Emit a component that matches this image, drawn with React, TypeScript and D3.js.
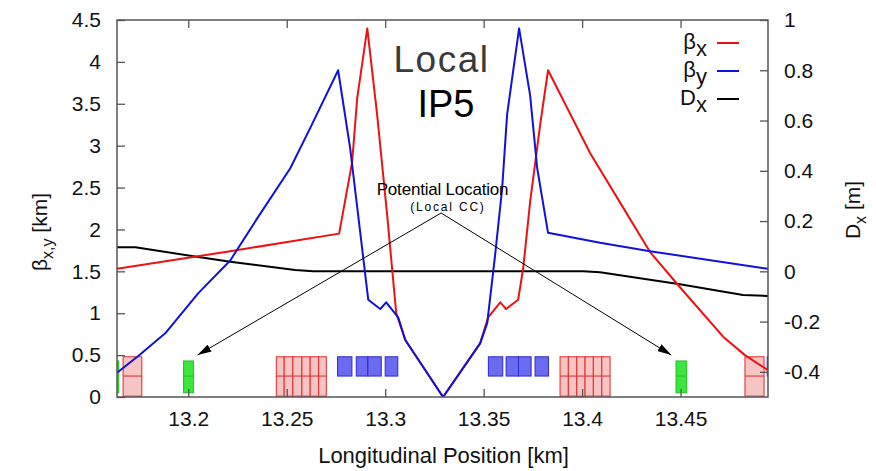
import * as d3 from 'd3'
import React, { useEffect, useRef } from 'react'

// longitudinal position [km] / value pairs
const betaXPos = [13.1638, 13.2213, 13.2766, 13.2832, 13.2858, 13.2909, 13.2959, 13.3010, 13.3056, 13.3102, 13.3294, 13.3482, 13.3523, 13.3584, 13.3614, 13.3675, 13.3701, 13.3736, 13.3787, 13.3827, 13.4041, 13.4193, 13.4345, 13.4497, 13.4716, 13.4827, 13.4944]
const betaXVal = [1.53, 1.74, 1.95, 2.80, 3.57, 4.40, 3.37, 2.17, 1.00, 0.68, 0.0, 0.64, 0.95, 1.13, 1.05, 1.16, 1.54, 2.33, 3.25, 3.90, 2.91, 2.32, 1.73, 1.31, 0.72, 0.50, 0.32]

const betaYPos = [13.1638, 13.1746, 13.1883, 13.2051, 13.2213, 13.2355, 13.2518, 13.2619, 13.2761, 13.2822, 13.2914, 13.2975, 13.3005, 13.3066, 13.3102, 13.3294, 13.3482, 13.3518, 13.3558, 13.3594, 13.3619, 13.3680, 13.3736, 13.3772, 13.3827, 13.4091, 13.4345, 13.4944]
const betaYVal = [0.29, 0.49, 0.76, 1.24, 1.63, 2.15, 2.73, 3.21, 3.90, 2.97, 1.16, 1.05, 1.13, 0.95, 0.68, 0.0, 0.64, 0.88, 1.69, 2.49, 3.37, 4.40, 3.60, 2.73, 1.96, 1.84, 1.74, 1.53]

const dispPos = [13.1638, 13.1731, 13.2051, 13.2223, 13.2543, 13.2635, 13.4005, 13.4091, 13.4497, 13.4817, 13.4944]
const dispVal = [0.096, 0.096, 0.057, 0.037, 0.005, 0.0, 0.0, -0.004, -0.051, -0.094, -0.098]

// magnet extents [start, end] in km
const pinkMagnets: [number, number][] = [
    [13.1669, 13.1764],
    [13.2447, 13.2487], [13.2487, 13.2531], [13.2531, 13.2577], [13.2577, 13.2619], [13.2619, 13.2662], [13.2662, 13.2701],
    [13.3888, 13.3930], [13.3930, 13.3973], [13.3973, 13.4015], [13.4015, 13.4057], [13.4057, 13.4100], [13.4100, 13.4142],
    [13.4827, 13.4924],
]
const greenMagnets: [number, number][] = [[13.1590, 13.1647], [13.1976, 13.2027], [13.4477, 13.4531]]
const blueMagnets: [number, number][] = [
    [13.2758, 13.2831], [13.2853, 13.2912], [13.2912, 13.2980], [13.3000, 13.3064],
    [13.3524, 13.3597], [13.3614, 13.3677], [13.3677, 13.3741], [13.3761, 13.3829],
    [13.4940, 13.5000],
]

const xTicks = [13.2, 13.25, 13.3, 13.35, 13.4, 13.45]
const betaTicks = [0, 0.5, 1, 1.5, 2, 2.5, 3, 3.5, 4, 4.5]
const dispTicks = [-0.4, -0.2, 0, 0.2, 0.4, 0.6, 0.8, 1]

// annotation: apex and the two candidate spots (km, beta)
const ccApex: [number, number] = [13.3284, 2.196]
const ccTargets: [number, number][] = [[13.2047, 0.5], [13.4453, 0.5]]

const legendItems = [
    { sym: 'β', sub: 'x', color: '#ee1111' },
    { sym: 'β', sub: 'y', color: '#1111dd' },
    { sym: 'D', sub: 'x', color: '#000000' },
]

const W = 876
const H = 471
const margin = { top: 20, right: 108, bottom: 74, left: 117 }
const font = '"Liberation Sans", Arial, sans-serif'
const axisColor = '#555'

const App: React.FC = () => {
    const ref = useRef<SVGSVGElement>(null)

    useEffect(() => {
        if (!ref.current) return
        const svg = d3.select(ref.current)
        svg.selectAll('*').remove()

        const x = d3.scaleLinear().domain([13.1638, 13.4944]).range([margin.left, W - margin.right])
        const yB = d3.scaleLinear().domain([0, 4.5]).range([H - margin.bottom, margin.top])
        const yD = d3.scaleLinear().domain([-0.5, 1]).range([H - margin.bottom, margin.top])

        const defs = svg.append('defs')
        defs.append('clipPath').attr('id', 'plotclip')
            .append('rect')
            .attr('x', margin.left).attr('y', margin.top)
            .attr('width', W - margin.left - margin.right)
            .attr('height', H - margin.top - margin.bottom)
        defs.append('marker')
            .attr('id', 'arrowhead')
            .attr('viewBox', '0 0 14 8')
            .attr('refX', 14).attr('refY', 4)
            .attr('markerWidth', 14).attr('markerHeight', 8)
            .attr('markerUnits', 'userSpaceOnUse')
            .attr('orient', 'auto')
            .append('path').attr('d', 'M0,0 L14,4 L0,8 Z').attr('fill', '#000')

        const plot = svg.append('g').attr('clip-path', 'url(#plotclip)')

        // magnets
        const mag = plot.append('g')
        const drawMagnets = (list: [number, number][], lo: number, hi: number, fill: string, stroke: string, midLine: boolean) => {
            const g = mag.append('g').selectAll('g').data(list).enter().append('g')
            g.append('rect')
                .attr('x', d => x(d[0]))
                .attr('y', yB(hi))
                .attr('width', d => x(d[1]) - x(d[0]))
                .attr('height', yB(lo) - yB(hi))
                .attr('fill', fill)
                .attr('stroke', stroke)
                .attr('stroke-width', 1)
            if (midLine) {
                g.append('line')
                    .attr('x1', d => x(d[0])).attr('x2', d => x(d[1]))
                    .attr('y1', yB(0.25)).attr('y2', yB(0.25))
                    .attr('stroke', stroke).attr('stroke-width', 1)
            }
        }
        drawMagnets(pinkMagnets, 0.01, 0.48, '#f7c4c4', '#e02828', true)
        drawMagnets(greenMagnets, 0.05, 0.43, '#3ce63c', '#22c022', true)
        drawMagnets(blueMagnets, 0.25, 0.48, '#6b6bf2', '#2a2ad0', false)

        // curves
        const lineB = d3.line<[number, number]>().x(d => x(d[0])).y(d => yB(d[1]))
        const lineD = d3.line<[number, number]>().x(d => x(d[0])).y(d => yD(d[1]))
        plot.append('path')
            .attr('d', lineD(dispPos.map((p, i) => [p, dispVal[i]] as [number, number])))
            .attr('fill', 'none').attr('stroke', '#000').attr('stroke-width', 2)
        plot.append('path')
            .attr('d', lineB(betaXPos.map((p, i) => [p, betaXVal[i]] as [number, number])))
            .attr('fill', 'none').attr('stroke', '#ee1111').attr('stroke-width', 2).attr('stroke-linejoin', 'round')
        plot.append('path')
            .attr('d', lineB(betaYPos.map((p, i) => [p, betaYVal[i]] as [number, number])))
            .attr('fill', 'none').attr('stroke', '#1111dd').attr('stroke-width', 2).attr('stroke-linejoin', 'round')

        // frame
        svg.append('rect')
            .attr('x', margin.left).attr('y', margin.top)
            .attr('width', W - margin.left - margin.right)
            .attr('height', H - margin.top - margin.bottom)
            .attr('fill', 'none').attr('stroke', axisColor).attr('stroke-width', 1.5)

        const styleAxis = (g: d3.Selection<SVGGElement, unknown, null, undefined>) => {
            g.select('.domain').remove()
            g.selectAll('line').attr('stroke', axisColor).attr('stroke-width', 1.3)
            g.selectAll('text').attr('fill', '#111').attr('font-family', font).attr('font-size', 21)
        }

        svg.append('g')
            .attr('transform', `translate(0,${H - margin.bottom})`)
            .call(d3.axisBottom(x).tickValues(xTicks).tickSize(-8).tickPadding(14).tickFormat(d => String(d)))
            .call(styleAxis)
        svg.append('g')
            .attr('transform', `translate(0,${margin.top})`)
            .call(d3.axisTop(x).tickValues(xTicks).tickSize(-8).tickFormat(() => ''))
            .call(styleAxis)
        svg.append('g')
            .attr('transform', `translate(${margin.left},0)`)
            .call(d3.axisLeft(yB).tickValues(betaTicks).tickSize(-8).tickPadding(16).tickFormat(d => String(d)))
            .call(styleAxis)
        svg.append('g')
            .attr('transform', `translate(${W - margin.right},0)`)
            .call(d3.axisRight(yD).tickValues(dispTicks).tickSize(-8).tickPadding(16).tickFormat(d => String(+(+d).toFixed(1))))
            .call(styleAxis)

        // axis titles
        svg.append('text')
            .attr('x', (margin.left + W - margin.right) / 2 + 1)
            .attr('y', 463)
            .attr('text-anchor', 'middle')
            .attr('font-family', font).attr('font-size', 22).attr('fill', '#111')
            .text('Longitudinal Position [km]')

        const yTitle = svg.append('text')
            .attr('transform', 'translate(47,232) rotate(-90)')
            .attr('text-anchor', 'middle')
            .attr('font-family', font).attr('font-size', 21).attr('fill', '#111')
        yTitle.append('tspan').text('β')
        yTitle.append('tspan').attr('dy', 6).attr('font-size', 16).text('x,y')
        yTitle.append('tspan').attr('dy', -6).text(' [km]')

        const dTitle = svg.append('text')
            .attr('transform', 'translate(860,210) rotate(-90)')
            .attr('text-anchor', 'middle')
            .attr('font-family', font).attr('font-size', 21).attr('fill', '#111')
        dTitle.append('tspan').text('D')
        dTitle.append('tspan').attr('dy', 6).attr('font-size', 16).text('x')
        dTitle.append('tspan').attr('dy', -6).text(' [m]')

        // legend
        const leg = svg.append('g')
        legendItems.forEach((d, i) => {
            const ly = 43 + i * 28
            const t = leg.append('text')
                .attr('x', 707).attr('y', ly + 5.5)
                .attr('text-anchor', 'end')
                .attr('font-family', font).attr('font-size', 22).attr('fill', '#111')
            t.append('tspan').text(d.sym)
            t.append('tspan').attr('dy', 7).text(d.sub)
            leg.append('line')
                .attr('x1', 717).attr('x2', 739).attr('y1', ly).attr('y2', ly)
                .attr('stroke', d.color).attr('stroke-width', 2)
        })

        // title block
        svg.append('text')
            .attr('x', 441.5).attr('y', 72)
            .attr('text-anchor', 'middle')
            .attr('font-family', font).attr('font-size', 37).attr('font-weight', 300)
            .attr('letter-spacing', 1.5).attr('fill', '#3a3a3a')
            .text('Local')
        svg.append('text')
            .attr('x', 446).attr('y', 117)
            .attr('text-anchor', 'middle')
            .attr('font-family', font).attr('font-size', 38).attr('fill', '#000')
            .text('IP5')

        // annotation
        svg.append('text')
            .attr('x', 442.5).attr('y', 194.5)
            .attr('text-anchor', 'middle')
            .attr('font-family', font).attr('font-size', 17).attr('letter-spacing', -0.2).attr('fill', '#000')
            .text('Potential Location')
        svg.append('text')
            .attr('x', 448).attr('y', 211)
            .attr('text-anchor', 'middle')
            .attr('font-family', font).attr('font-size', 12).attr('letter-spacing', 1.8).attr('fill', '#000')
            .text('(Local CC)')
        svg.append('g').selectAll('line').data(ccTargets).enter().append('line')
            .attr('x1', x(ccApex[0])).attr('y1', yB(ccApex[1]))
            .attr('x2', d => x(d[0])).attr('y2', d => yB(d[1]))
            .attr('stroke', '#000').attr('stroke-width', 1)
            .attr('marker-end', 'url(#arrowhead)')
    }, [])

    return (
        <svg ref={ref} width={W} height={H}
            style={{ position: 'absolute', left: 0, top: 0, background: '#fff' }} />
    )
}

export default App
